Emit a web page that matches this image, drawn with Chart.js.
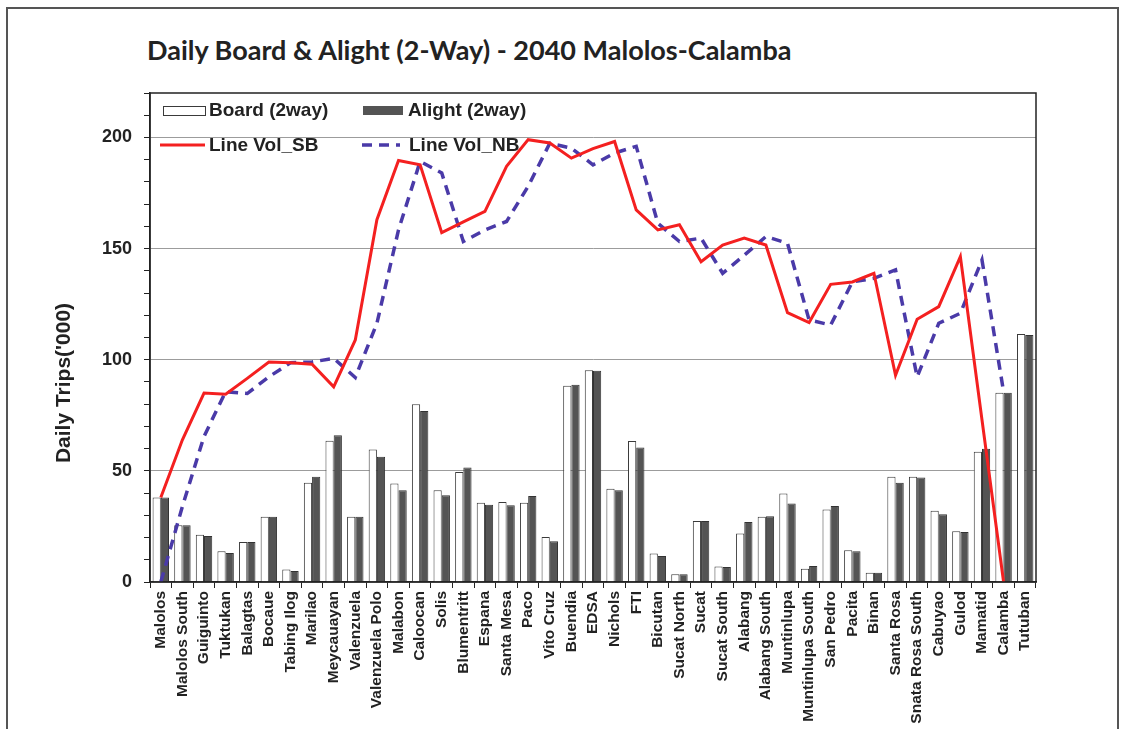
<!DOCTYPE html>
<html>
<head>
<meta charset="utf-8">
<script src="https://cdn.jsdelivr.net/npm/chart.js@4/dist/chart.umd.min.js"></script>
<style>
  html, body { margin: 0; padding: 0; background: #fff; }
  #wrap { position: relative; width: 1124px; height: 729px; overflow: hidden; }
  #frame { position: absolute; left: 6px; top: 7px; width: 1113px; height: 760px; border: 2px solid #555; box-sizing: border-box; }
  #title { position: absolute; left: 147px; top: 33px; margin: 0; font: bold 27px Lato, "Open Sans", sans-serif; color: #222; white-space: nowrap; }
  canvas { position: absolute; left: 0; top: 0; }
</style>
</head>
<body>
<div id="wrap">
  <div id="frame"></div>
  <h1 id="title">Daily Board &amp; Alight (2-Way) - 2040 Malolos-Calamba</h1>
  <canvas id="chart" width="1124" height="729"></canvas>
</div>
<script>
// ── 数据 ──
const stations = [
  'Malolos', 'Malolos South', 'Guiguinto', 'Tuktukan', 'Balagtas', 'Bocaue', 'Tabing Ilog',
  'Marilao', 'Meycauayan', 'Valenzuela', 'Valenzuela Polo', 'Malabon', 'Caloocan', 'Solis',
  'Blumentritt', 'Espana', 'Santa Mesa', 'Paco', 'Vito Cruz', 'Buendia', 'EDSA', 'Nichols',
  'FTI', 'Bicutan', 'Sucat North', 'Sucat', 'Sucat South', 'Alabang', 'Alabang South',
  'Muntinlupa', 'Muntinlupa South', 'San Pedro', 'Pacita', 'Binan', 'Santa Rosa',
  'Snata Rosa South', 'Cabuyao', 'Gulod', 'Mamatid', 'Calamba', 'Tutuban'
];

const boardTrips = [
  38, 25.5, 21.3, 13.8, 18, 29.3, 5.6, 44.7, 63.5, 29.3, 59.6, 44.3, 80, 41.3,
  49.5, 35.6, 36, 35.7, 20.3, 88.3, 95.3, 42, 63.4, 12.8, 3.5, 27.5, 7, 21.8, 29.3,
  39.8, 6, 32.6, 14.3, 4.2, 47.3, 47.3, 32, 22.8, 58.6, 85.1, 111.6
];

const alightTrips = [
  38, 25.5, 20.7, 13, 18, 29.3, 5, 47.3, 66, 29.3, 56.3, 41.3, 76.9, 39,
  51.5, 34.8, 34.5, 38.7, 18.3, 88.7, 95, 41.3, 60.5, 11.7, 3.5, 27.5, 6.8, 27, 29.6,
  35.3, 7.2, 34.2, 13.8, 4.2, 44.6, 47, 30.5, 22.5, 60, 85.1, 111.1
];

const lineVolSB = [
  38, 64, 85, 84.5, 91.6, 99, 98.6, 98, 87.8, 108.9, 163, 189.6, 187.7, 157.2,
  162, 166.7, 187, 199, 197.5, 190.7, 195, 198.2, 167.4, 158.4, 160.7, 144.1, 151.6,
  154.7, 151.6, 121.2, 116.7, 133.9, 135, 138.9, 93, 118.2, 123.9, 146.4, 73, 0, null
];

const lineVolNB = [
  0, 34, 65.5, 85.6, 84.8, 92.3, 98.6, 99, 100.6, 92, 116.4, 158.4, 189.2, 184,
  153.2, 158.4, 162.2, 178, 197.4, 195.2, 187.7, 193, 196, 161.4, 153.2, 154.7, 138.9,
  147, 155.4, 152.4, 117.9, 115.6, 135, 136.6, 140.4, 92.3, 116.4, 120.9, 144.9, 85.6, null
];

const yMax = 220;
const yLabelStep = 50;   // 标注刻度
const yMinorStep = 10;   // 小刻度

const AXIS_FONT = 'Liberation Sans, Arial, sans-serif';
const INK = '#222';

// ── 图例 + 外框 + 纵轴标题 ──
const decor = {
  id: 'decor',
  beforeDatasetsDraw(chart) {
    const ctx = chart.ctx;
    const ds = chart.data.datasets;
    const board = ds.find(d => d.label === 'Board (2way)');
    const alight = ds.find(d => d.label === 'Alight (2way)');
    const sb = ds.find(d => d.label === 'Line Vol_SB');
    const nb = ds.find(d => d.label === 'Line Vol_NB');
    ctx.save();
    ctx.font = 'bold 19px ' + AXIS_FONT;
    ctx.fillStyle = INK;
    ctx.textBaseline = 'middle';

    // 第一行：柱
    ctx.fillStyle = board.backgroundColor;
    ctx.fillRect(163, 106, 42, 9);
    ctx.strokeStyle = board.borderColor;
    ctx.lineWidth = 1;
    ctx.strokeRect(163.5, 106.5, 42, 9);
    ctx.fillStyle = alight.backgroundColor;
    ctx.fillRect(363, 106, 40, 9);
    ctx.fillStyle = INK;
    ctx.fillText(board.label, 209, 111);
    ctx.fillText(alight.label, 408, 111);

    // 第二行：线
    ctx.lineWidth = sb.borderWidth;
    ctx.strokeStyle = sb.borderColor;
    ctx.beginPath(); ctx.moveTo(160, 145); ctx.lineTo(205, 145); ctx.stroke();
    ctx.lineWidth = nb.borderWidth;
    ctx.strokeStyle = nb.borderColor;
    ctx.setLineDash(nb.borderDash);
    ctx.beginPath(); ctx.moveTo(362, 145); ctx.lineTo(400, 145); ctx.stroke();
    ctx.setLineDash([]);
    ctx.fillText(sb.label, 209, 146);
    ctx.fillText(nb.label, 409, 146);
    ctx.restore();
  },
  afterDatasetsDraw(chart) {
    const { ctx, chartArea: a } = chart;
    ctx.save();
    ctx.strokeStyle = INK;
    ctx.lineWidth = 1.5;
    ctx.strokeRect(a.left, a.top, a.right - a.left, a.bottom - a.top);
    ctx.restore();
  },
  afterDraw(chart) {
    const ctx = chart.ctx;
    ctx.save();
    ctx.translate(64, 383);
    ctx.rotate(-Math.PI / 2);
    ctx.font = 'bold 21px ' + AXIS_FONT;
    ctx.fillStyle = INK;
    ctx.textAlign = 'center';
    ctx.textBaseline = 'middle';
    ctx.fillText("Daily Trips('000)", 0, 0);
    ctx.restore();
  }
};

new Chart(document.getElementById('chart'), {
  type: 'bar',
  data: {
    labels: stations,
    datasets: [
      {
        label: 'Board (2way)', data: boardTrips, order: 2,
        backgroundColor: '#ffffff', borderColor: '#3a3a3a', borderWidth: 1,
        categoryPercentage: 0.76, barPercentage: 1.0,
      },
      {
        label: 'Alight (2way)', data: alightTrips, order: 2,
        backgroundColor: '#545454', borderColor: '#333333', borderWidth: 1,
        categoryPercentage: 0.76, barPercentage: 1.0,
      },
      {
        type: 'line', label: 'Line Vol_SB', data: lineVolSB, order: 1,
        borderColor: '#f42020', borderWidth: 3, pointRadius: 0, tension: 0, fill: false,
      },
      {
        type: 'line', label: 'Line Vol_NB', data: lineVolNB, order: 1,
        borderColor: '#4a3aa8', borderWidth: 3.5, borderDash: [10, 7],
        pointRadius: 0, tension: 0, fill: false,
      },
    ],
  },
  options: {
    responsive: false,
    animation: false,
    layout: { padding: { top: 93, right: 88, bottom: 0, left: 0 } },
    plugins: {
      legend: { display: false },
      tooltip: { enabled: false },
      title: { display: false },
    },
    scales: {
      x: {
        offset: true,
        grid: { drawOnChartArea: false, offset: true, tickLength: 6, tickColor: INK, lineWidth: 1 },
        border: { color: INK, width: 1.5 },
        ticks: {
          autoSkip: false, maxRotation: 90, minRotation: 90, padding: 3,
          color: INK, font: { family: AXIS_FONT, size: 15.5, weight: 'bold' },
        },
        afterFit: s => { s.height = 147; },
      },
      y: {
        min: 0, max: yMax,
        grid: {
          color: c => (c.tick && c.tick.value % yLabelStep === 0 && c.tick.value > 0 && c.tick.value < yMax)
            ? '#9c9c9c' : 'rgba(0,0,0,0)',
          tickColor: INK, tickLength: 6, lineWidth: 1,
        },
        border: { color: INK, width: 1.5 },
        ticks: {
          stepSize: yMinorStep, autoSkip: false, padding: 12,
          color: INK, font: { family: AXIS_FONT, size: 18, weight: 'bold' },
          callback: v => (v % yLabelStep === 0 && v <= 200) ? v : '',
        },
        afterFit: s => { s.width = 150; },
      },
    },
  },
  plugins: [decor],
});
</script>
</body>
</html>
